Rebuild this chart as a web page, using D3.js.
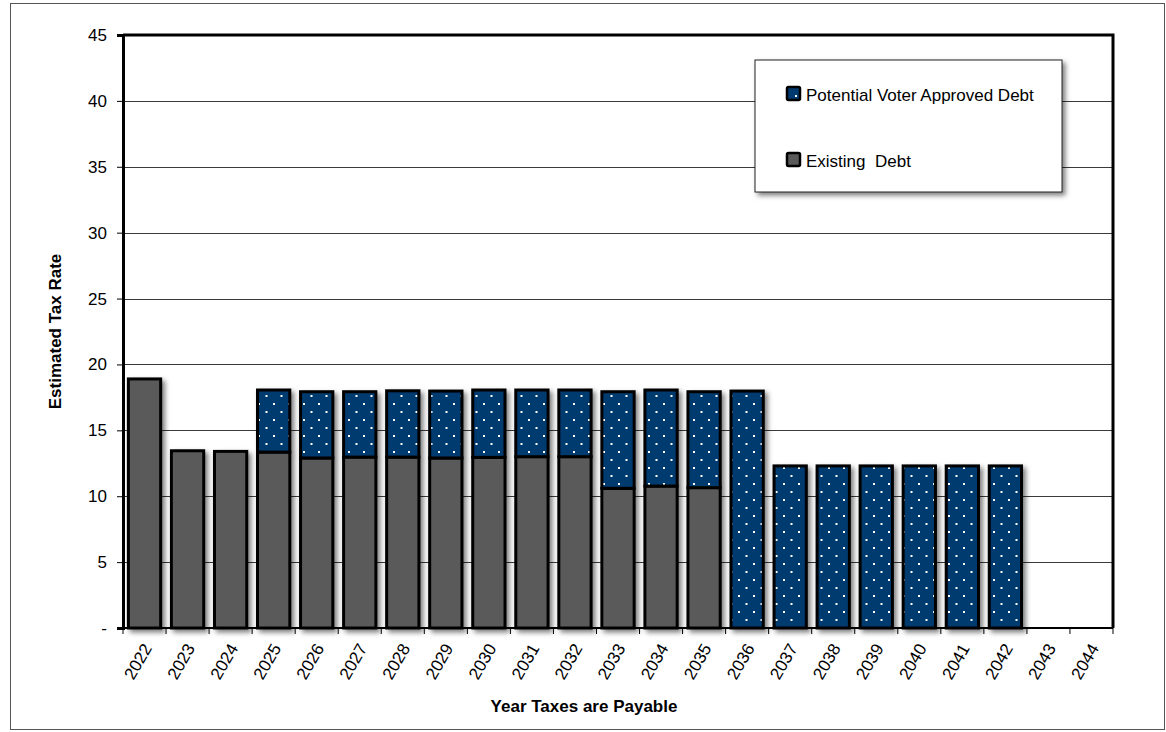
<!DOCTYPE html>
<html>
<head>
<meta charset="utf-8">
<script src="https://cdn.jsdelivr.net/npm/d3@7"></script>
<style>
  body { margin: 0; background: #fff; }
  text { font-family: "Liberation Sans", Arial, sans-serif; }
</style>
</head>
<body>
<script>
var years = [2022, 2023, 2024, 2025, 2026, 2027, 2028, 2029, 2030, 2031, 2032,
             2033, 2034, 2035, 2036, 2037, 2038, 2039, 2040, 2041, 2042, 2043, 2044];
var existingDebt = [18.9, 13.45, 13.4, 13.35, 12.9, 12.97, 12.97, 12.9, 12.95, 13.0, 13.0,
                    10.6, 10.77, 10.65, 0, 0, 0, 0, 0, 0, 0, 0, 0];
var potentialDebt = [0, 0, 0, 4.71, 5.03, 4.96, 5.03, 5.08, 5.11, 5.06, 5.06,
                     7.33, 7.29, 7.28, 17.98, 12.3, 12.3, 12.3, 12.3, 12.3, 12.3, 0, 0];
var yTicks = [0, 5, 10, 15, 20, 25, 30, 35, 40, 45];
var seriesNames = ["Existing  Debt", "Potential Voter Approved Debt"];

const WIDTH = 1166;
const HEIGHT = 732;
const LEFT = 123, RIGHT = 1113, TOP = 35, BOTTOM = 628;
const GRAY = "#5a5a5a";
const BLUE = "#003a70";

var svg = d3.select("body").append("svg")
  .attr("width", WIDTH)
  .attr("height", HEIGHT);

var defs = svg.append("defs");

var pat = defs.append("pattern")
  .attr("id", "dots")
  .attr("patternUnits", "userSpaceOnUse")
  .attr("width", 15)
  .attr("height", 16);
pat.append("rect").attr("width", 15).attr("height", 16).attr("fill", BLUE);
pat.append("rect").attr("x", 3).attr("y", 3).attr("width", 2).attr("height", 2).attr("fill", "#fff");
pat.append("rect").attr("x", 10.5).attr("y", 11).attr("width", 2).attr("height", 2).attr("fill", "#fff");

var shadow = defs.append("filter")
  .attr("id", "shadow")
  .attr("x", "-30%").attr("y", "-30%")
  .attr("width", "160%").attr("height", "160%");
shadow.append("feDropShadow")
  .attr("dx", 3).attr("dy", 3)
  .attr("stdDeviation", 2.5)
  .attr("flood-color", "#000")
  .attr("flood-opacity", 0.5);

// outer chart border
svg.append("rect")
  .attr("x", 10.5).attr("y", 3.5)
  .attr("width", 1154).attr("height", 726)
  .attr("fill", "none")
  .attr("stroke", "#555")
  .attr("stroke-width", 1);

var x = d3.scaleBand()
  .domain(years)
  .range([LEFT, RIGHT])
  .paddingInner(0.25)
  .paddingOuter(0.125);

var y = d3.scaleLinear()
  .domain([0, 45])
  .range([BOTTOM, TOP]);

// gridlines
svg.append("g")
  .selectAll("line")
  .data(yTicks.filter(function (d) { return d > 0 && d < 45; }))
  .enter().append("line")
  .attr("x1", LEFT).attr("x2", RIGHT)
  .attr("y1", function (d) { return Math.round(y(d)) + 0.5; })
  .attr("y2", function (d) { return Math.round(y(d)) + 0.5; })
  .attr("stroke", "#3a3a3a")
  .attr("stroke-width", 1.2);

// stacked bars
var table = years.map(function (yr, i) {
  return { year: yr, existing: existingDebt[i], potential: potentialDebt[i] };
});
var stack = d3.stack().keys(["existing", "potential"])(table);
var fills = { existing: GRAY, potential: "url(#dots)" };

var barsG = svg.append("g").attr("filter", "url(#shadow)");
stack.forEach(function (layer) {
  barsG.append("g")
    .selectAll("rect")
    .data(layer.filter(function (d) { return d[1] - d[0] > 0; }))
    .enter().append("rect")
    .attr("x", function (d) { return x(d.data.year); })
    .attr("y", function (d) { return y(d[1]); })
    .attr("width", x.bandwidth())
    .attr("height", function (d) { return y(d[0]) - y(d[1]); })
    .attr("fill", fills[layer.key])
    .attr("stroke", "#000")
    .attr("stroke-width", 3);
});

// plot frame (top and right)
svg.append("path")
  .attr("d", "M" + LEFT + "," + TOP + "H" + RIGHT + "V" + BOTTOM)
  .attr("fill", "none")
  .attr("stroke", "#000")
  .attr("stroke-width", 3);

// y axis
var yAxis = d3.axisLeft(y)
  .tickValues(yTicks)
  .tickSize(6)
  .tickPadding(10)
  .tickFormat(function (d) { return d === 0 ? "-" : d; });
var yg = svg.append("g")
  .attr("transform", "translate(" + LEFT + ",0)")
  .call(yAxis);
yg.select(".domain").attr("stroke", "#000").attr("stroke-width", 3);
yg.selectAll(".tick line").attr("stroke", "#000");
yg.selectAll("text")
  .attr("font-size", 17)
  .attr("font-family", "'Liberation Sans', Arial, sans-serif")
  .attr("fill", "#000");

// x axis: ticks at category boundaries
var step = x.step();
var bounds = d3.range(years.length + 1).map(function (i) {
  return x(years[0]) - step * 0.125 + i * step;
});
var xg = svg.append("g");
xg.append("line")
  .attr("x1", LEFT).attr("x2", RIGHT)
  .attr("y1", BOTTOM).attr("y2", BOTTOM)
  .attr("stroke", "#000").attr("stroke-width", 2);
xg.selectAll(".bt")
  .data(bounds)
  .enter().append("line")
  .attr("class", "bt")
  .attr("x1", function (d) { return d; }).attr("x2", function (d) { return d; })
  .attr("y1", BOTTOM).attr("y2", BOTTOM + 6)
  .attr("stroke", "#000");
xg.selectAll(".xl")
  .data(years)
  .enter().append("text")
  .attr("class", "xl")
  .attr("text-anchor", "end")
  .attr("font-size", 17)
  .attr("transform", function (d) {
    return "translate(" + (x(d) + x.bandwidth() / 2 + 8) + "," + (BOTTOM + 20) + ") rotate(-60)";
  })
  .text(function (d) { return d; });

// axis titles
svg.append("text")
  .attr("x", 584).attr("y", 712)
  .attr("text-anchor", "middle")
  .attr("font-size", 17)
  .attr("font-weight", "bold")
  .text("Year Taxes are Payable");

svg.append("text")
  .attr("transform", "translate(61," + ((TOP + BOTTOM) / 2) + ") rotate(-90)")
  .attr("text-anchor", "middle")
  .attr("font-size", 17)
  .attr("font-weight", "bold")
  .text("Estimated Tax Rate");

// legend
var lg = svg.append("g");
lg.append("rect")
  .attr("x", 755).attr("y", 60)
  .attr("width", 307).attr("height", 132)
  .attr("fill", "#fff")
  .attr("stroke", "#222")
  .attr("stroke-width", 1)
  .attr("filter", "url(#shadow)");

var legendItems = [
  { name: seriesNames[1], fill: BLUE, dot: true, y: 87 },
  { name: seriesNames[0], fill: GRAY, dot: false, y: 153 }
];
var li = lg.selectAll(".li")
  .data(legendItems)
  .enter().append("g")
  .attr("class", "li")
  .attr("transform", function (d) { return "translate(787," + d.y + ")"; });
li.append("rect")
  .attr("width", 13).attr("height", 13)
  .attr("rx", 1.5)
  .attr("fill", function (d) { return d.fill; })
  .attr("stroke", "#000")
  .attr("stroke-width", 2.5);
li.filter(function (d) { return d.dot; })
  .append("rect")
  .attr("x", 8).attr("y", 8).attr("width", 2).attr("height", 2)
  .attr("fill", "#fff");
li.append("text")
  .attr("x", 19).attr("y", 14)
  .attr("font-size", 17)
  .style("white-space", "pre")
  .text(function (d) { return d.name; });
</script>
</body>
</html>
